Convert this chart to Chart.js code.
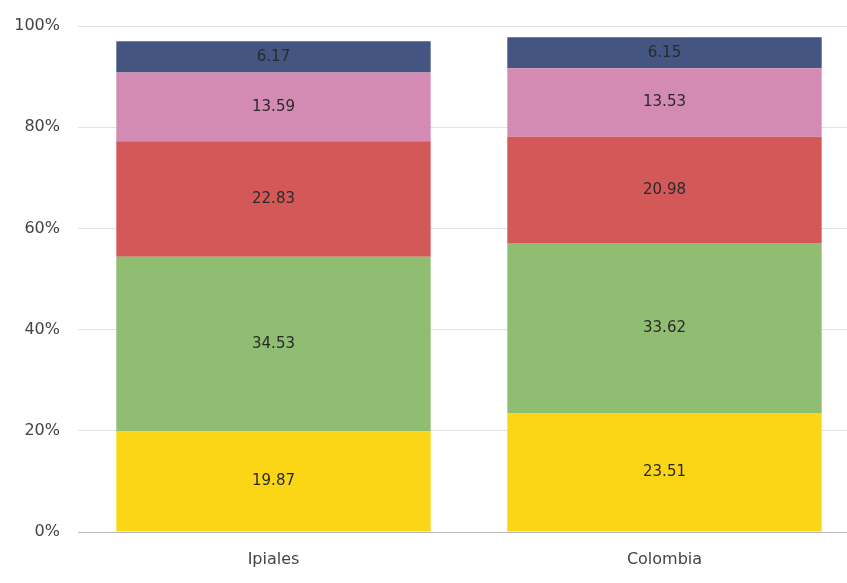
<!DOCTYPE html>
<html>
<head>
<meta charset="utf-8">
<script src="https://cdn.jsdelivr.net/npm/chart.js@4"></script>
<style>
    body { margin: 0; background: #fff; overflow: hidden; }
    #wrap { width: 860px; height: 583px; }
</style>
</head>
<body>
<div id="wrap"><canvas id="barChart"></canvas></div>
<script>
const categories = ["Ipiales", "Colombia"];
const serieAmarilla = [19.87, 23.51];
const serieVerde = [34.53, 33.62];
const serieRoja = [22.83, 20.98];
const serieRosa = [13.59, 13.53];
const serieAzul = [6.17, 6.15];
const yTicks = [0, 20, 40, 60, 80, 100];

const FONT = "'DejaVu Sans', sans-serif";

// etiquetas de valor en el centro de cada segmento
const valueLabels = {
    id: "valueLabels",
    afterDatasetsDraw(chart) {
        const ctx = chart.ctx;
        ctx.save();
        ctx.font = "15px " + FONT;
        ctx.fillStyle = "#2a2a2a";
        ctx.textAlign = "center";
        ctx.textBaseline = "middle";
        chart.data.datasets.forEach((ds, i) => {
            chart.getDatasetMeta(i).data.forEach((bar, j) => {
                const mid = (bar.y + bar.base) / 2;
                ctx.fillText(ds.data[j].toFixed(2), bar.x, mid);
            });
        });
        ctx.restore();
    }
};

function makeSet(data, color) {
    return {
        data: data,
        backgroundColor: color,
        borderWidth: 0,
        barPercentage: 0.804,
        categoryPercentage: 1
    };
}

new Chart(document.getElementById("barChart").getContext("2d"), {
    type: "bar",
    data: {
        labels: categories,
        datasets: [
            makeSet(serieAmarilla, "#fbd617"),
            makeSet(serieVerde, "#8fbd72"),
            makeSet(serieRoja, "#d35959"),
            makeSet(serieRosa, "#d48bb3"),
            makeSet(serieAzul, "#435580")
        ]
    },
    options: {
        responsive: true,
        maintainAspectRatio: false,
        animation: false,
        layout: { padding: { top: 20, left: 0, right: 0, bottom: 0 } },
        plugins: {
            legend: { display: false },
            tooltip: { enabled: false }
        },
        scales: {
            x: {
                stacked: true,
                grid: { display: false, drawTicks: false },
                border: { color: "#bbb" },
                ticks: { color: "#444", font: { family: FONT, size: 16 }, padding: 18 },
                afterFit: (axis) => { axis.height = 51; }
            },
            y: {
                stacked: true,
                min: 0,
                max: 100,
                afterBuildTicks: (axis) => { axis.ticks = yTicks.map(v => ({ value: v })); },
                grid: { color: "#e3e3e3", drawTicks: false },
                border: { display: false },
                ticks: {
                    color: "#444",
                    font: { family: FONT, size: 16, lineHeight: 1 },
                    padding: 18,
                    callback: (v) => v + "%"
                },
                afterFit: (axis) => { axis.width = 78; }
            }
        }
    },
    plugins: [valueLabels]
});
</script>
</body>
</html>
